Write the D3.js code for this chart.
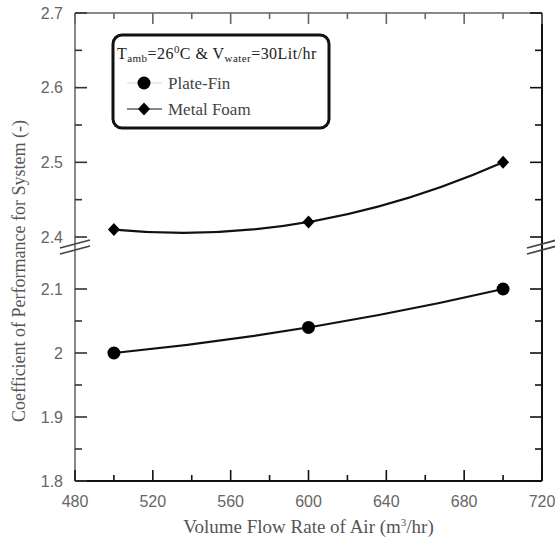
<!DOCTYPE html>
<html>
<head>
<meta charset="utf-8">
<script src="https://cdn.jsdelivr.net/npm/d3@7"></script>
<style>
  body { margin: 0; background: #fff; }
  svg { display: block; }
</style>
</head>
<body>
<div id="chart"></div>
<script>
// data
const flowRate = [500, 600, 700];           // m3/hr
const plateFin = [2.00, 2.04, 2.10];
const metalFoam = [2.41, 2.42, 2.50];

const xTicks = [480, 520, 560, 600, 640, 680, 720];
const xMinor = [500, 540, 580, 620, 660, 700];
const yTopTicks = [2.4, 2.5, 2.6, 2.7];
const yTopMinor = [2.45, 2.55, 2.65];
const yBotTicks = [1.8, 1.9, 2.0, 2.1];
const yBotMinor = [1.85, 1.95, 2.05];

const W = 555, H = 541;
const svg = d3.select("#chart").append("svg").attr("width", W).attr("height", H);

const pLeft = 75, pRight = 542, pTop = 13, pBottom = 481;
const x = d3.scaleLinear().domain([480, 720]).range([pLeft, pRight]);
// broken y axis: two linear pieces
const yTop = d3.scaleLinear().domain([2.4, 2.7]).range([237, pTop]);
const yBot = d3.scaleLinear().domain([1.8, 2.1]).range([pBottom, 289]);
const yOf = v => v >= 2.3 ? yTop(v) : yBot(v);
const breakY = 247;

const sans = "'Liberation Sans', Arial, sans-serif";
const serif = "'Liberation Serif', 'Times New Roman', serif";
const labelColor = "#555";

// frame
const frame = svg.append("g").attr("fill", "none").attr("stroke-width", 2);
frame.append("line").attr("x1", pLeft).attr("x2", pRight).attr("y1", pTop).attr("y2", pTop).attr("stroke", "#8a8a8a");
frame.append("line").attr("x1", pLeft).attr("x2", pLeft).attr("y1", pTop).attr("y2", pBottom).attr("stroke", "#8a8a8a");
frame.append("line").attr("x1", pLeft).attr("x2", pRight).attr("y1", pBottom).attr("y2", pBottom).attr("stroke", "#111");
frame.append("line").attr("x1", pRight).attr("x2", pRight).attr("y1", pTop).attr("y2", pBottom).attr("stroke", "#111");

// ticks
const ticks = svg.append("g").attr("stroke-width", 1.6);
function xTick(v, len) {
  ticks.append("line").attr("x1", x(v)).attr("x2", x(v)).attr("y1", pBottom).attr("y2", pBottom - len).attr("stroke", "#111");
  ticks.append("line").attr("x1", x(v)).attr("x2", x(v)).attr("y1", pTop).attr("y2", pTop + len).attr("stroke", "#666");
}
xTicks.forEach(v => xTick(v, 11));
xMinor.forEach(v => xTick(v, 6));
function yTick(y, len) {
  ticks.append("line").attr("x1", pLeft).attr("x2", pLeft + len).attr("y1", y).attr("y2", y).attr("stroke", "#333");
  ticks.append("line").attr("x1", pRight).attr("x2", pRight - len).attr("y1", y).attr("y2", y).attr("stroke", "#111");
}
yTopTicks.forEach(v => yTick(yTop(v), 12));
yTopMinor.forEach(v => yTick(yTop(v), 7));
yBotTicks.forEach(v => yTick(yBot(v), 12));
yBotMinor.forEach(v => yTick(yBot(v), 7));

// tick labels
svg.append("g").selectAll("text").data(xTicks).join("text")
  .attr("x", d => x(d)).attr("y", 507)
  .attr("text-anchor", "middle")
  .attr("font-family", sans).attr("font-size", 16).attr("fill", "#666")
  .text(d => d);
svg.append("g").selectAll("text").data(yTopTicks.concat(yBotTicks)).join("text")
  .attr("x", 63).attr("y", d => yOf(d) + 5.5)
  .attr("text-anchor", "end")
  .attr("font-family", sans).attr("font-size", 16).attr("fill", "#666")
  .text(d => String(+d.toFixed(2)));

// axis break marks
const brk = svg.append("g").attr("stroke", "#444").attr("stroke-width", 1.8);
[pLeft, pRight].forEach(ax => {
  [-3, 3].forEach(off => {
    brk.append("line")
      .attr("x1", ax - 15).attr("y1", breakY + off + 4)
      .attr("x2", ax + 15).attr("y2", breakY + off - 4);
  });
});

// fitted curves: quadratic through the three points
function curvePath(vals, yScale) {
  const p = flowRate.map((f, i) => [x(f), yScale(vals[i])]);
  const cx = 2 * p[1][0] - (p[0][0] + p[2][0]) / 2;
  const cy = 2 * p[1][1] - (p[0][1] + p[2][1]) / 2;
  const path = d3.path();
  path.moveTo(p[0][0], p[0][1]);
  path.quadraticCurveTo(cx, cy, p[2][0], p[2][1]);
  return path.toString();
}
svg.append("path").attr("d", curvePath(plateFin, yBot))
  .attr("fill", "none").attr("stroke", "#111").attr("stroke-width", 2.2);
svg.append("path").attr("d", curvePath(metalFoam, yTop))
  .attr("fill", "none").attr("stroke", "#111").attr("stroke-width", 2.2);

// markers
const diamond = "M0,-6.5L6,0L0,6.5L-6,0Z";
svg.append("g").selectAll("circle").data(plateFin).join("circle")
  .attr("cx", (d, i) => x(flowRate[i])).attr("cy", d => yBot(d))
  .attr("r", 6.5).attr("fill", "#000");
svg.append("g").selectAll("path").data(metalFoam).join("path")
  .attr("transform", (d, i) => `translate(${x(flowRate[i])},${yTop(d)})`)
  .attr("d", diamond).attr("fill", "#000");

// legend
const lg = svg.append("g");
lg.append("rect").attr("x", 113).attr("y", 35).attr("width", 216).attr("height", 93)
  .attr("rx", 9).attr("fill", "#fff").attr("stroke", "#111").attr("stroke-width", 3);
const head = lg.append("text").attr("x", 117).attr("y", 59)
  .attr("font-family", serif).attr("font-size", 16).attr("fill", "#222")
  .attr("letter-spacing", 0.45);
head.append("tspan").text("T");
head.append("tspan").attr("font-size", 11).attr("dy", 3).text("amb");
head.append("tspan").attr("dy", -3).text("=26");
head.append("tspan").attr("font-size", 11).attr("dy", -6).text("0");
head.append("tspan").attr("dy", 6).text("C & V");
head.append("tspan").attr("font-size", 11).attr("dy", 3).text("water");
head.append("tspan").attr("dy", -3).text("=30Lit/hr");

lg.append("line").attr("x1", 127).attr("x2", 162).attr("y1", 83).attr("y2", 83)
  .attr("stroke", "#e4e4e4").attr("stroke-width", 1.5);
lg.append("circle").attr("cx", 144).attr("cy", 83).attr("r", 6.5).attr("fill", "#000");
lg.append("text").attr("x", 168).attr("y", 88.5)
  .attr("font-family", serif).attr("font-size", 17).attr("fill", "#444").text("Plate-Fin");

lg.append("line").attr("x1", 127).attr("x2", 162).attr("y1", 109).attr("y2", 109)
  .attr("stroke", "#888").attr("stroke-width", 2);
lg.append("path").attr("transform", "translate(144,109)").attr("d", diamond).attr("fill", "#000");
lg.append("text").attr("x", 168).attr("y", 114.5)
  .attr("font-family", serif).attr("font-size", 17).attr("fill", "#444").text("Metal Foam");

// axis titles
const xt = svg.append("text").attr("x", (pLeft + pRight) / 2).attr("y", 533)
  .attr("text-anchor", "middle")
  .attr("font-family", serif).attr("font-size", 19).attr("fill", labelColor);
xt.append("tspan").text("Volume Flow Rate of Air (m");
xt.append("tspan").attr("font-size", 11).attr("dy", -7).text("3");
xt.append("tspan").attr("dy", 7).text("/hr)");

svg.append("text")
  .attr("transform", `translate(25,${(pTop + pBottom) / 2 + 24}) rotate(-90)`)
  .attr("text-anchor", "middle")
  .attr("font-family", serif).attr("font-size", 18).attr("fill", labelColor)
  .text("Coefficient of Performance for System (-)");
</script>
</body>
</html>
